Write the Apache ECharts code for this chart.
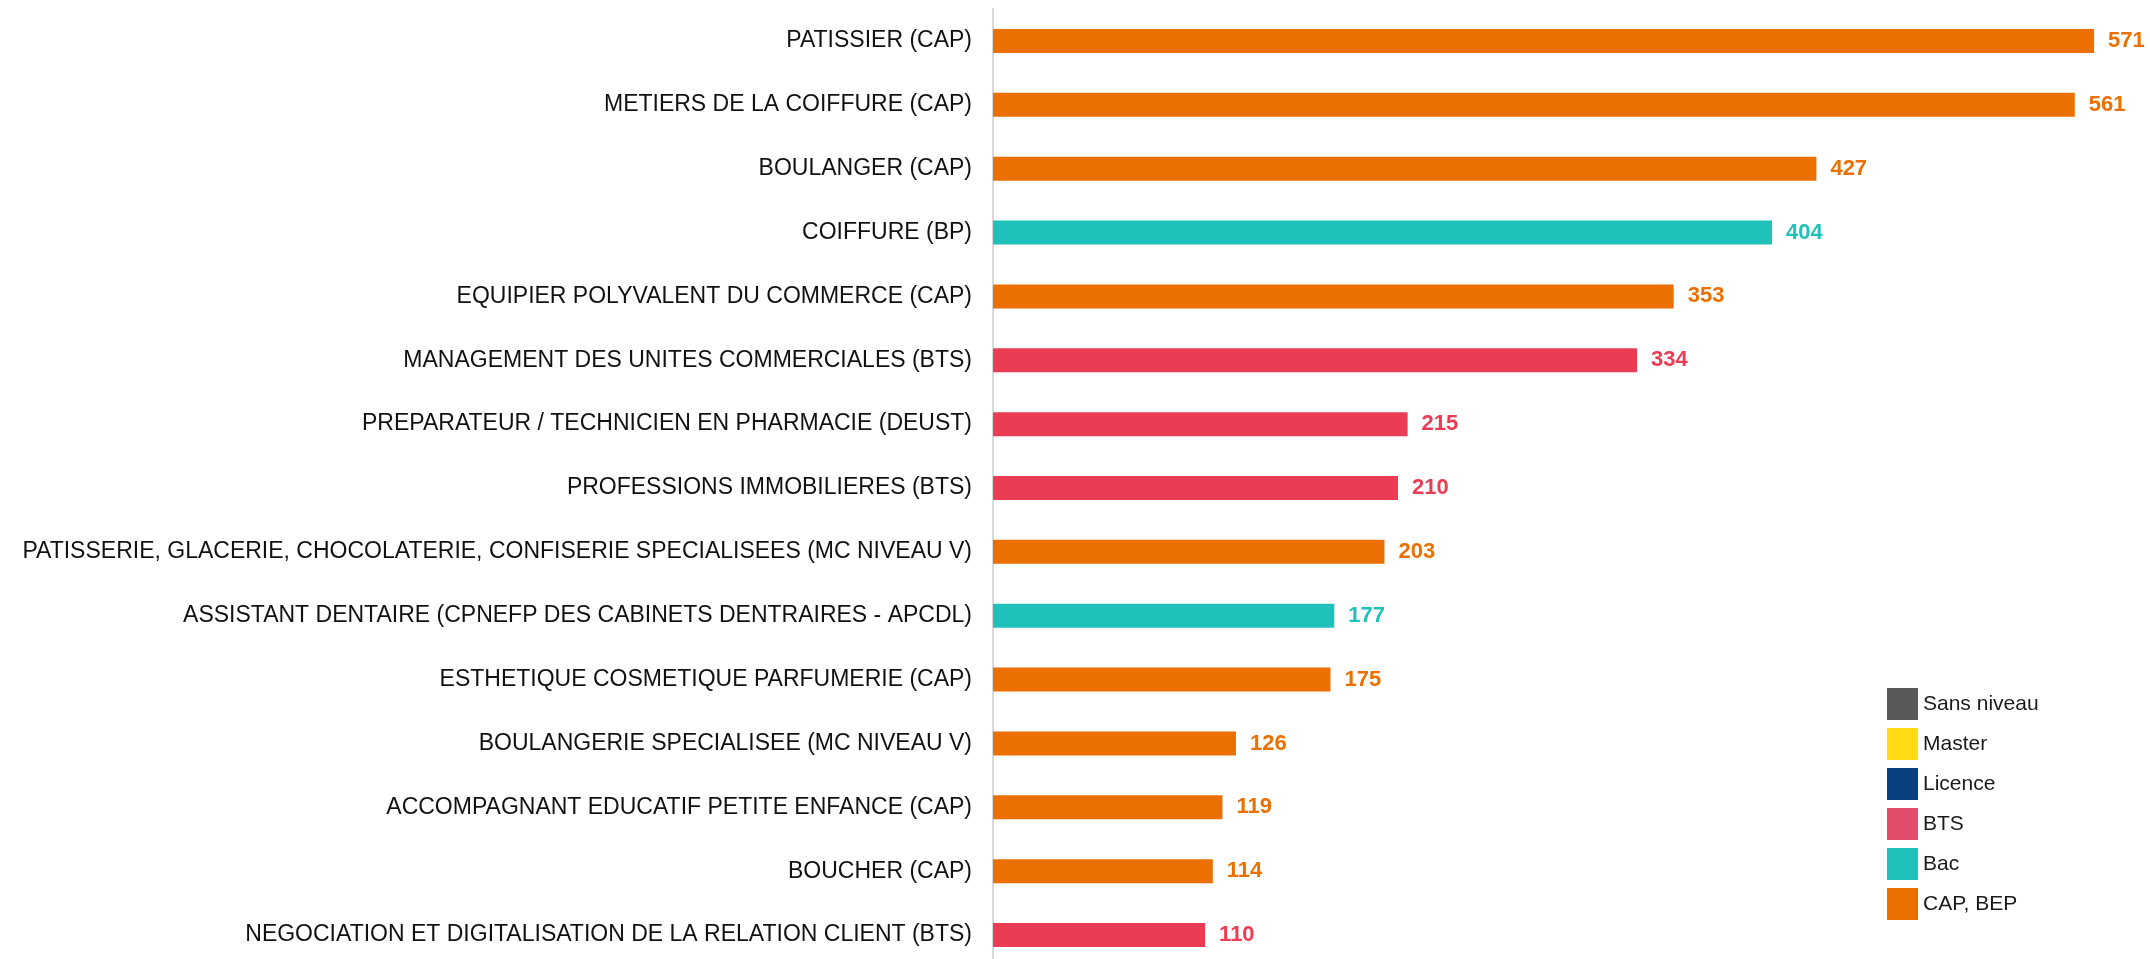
<!DOCTYPE html>
<html>
<head>
<meta charset="utf-8">
<script src="https://cdn.jsdelivr.net/npm/echarts@6/dist/echarts.min.js"></script>
<style>
  html, body { margin: 0; padding: 0; background: #fff; }
  #chart { width: 2150px; height: 959px; }
</style>
</head>
<body>
<div id="chart"></div>
<script>
// Formations listed from top to bottom
const categories = [
  'PATISSIER (CAP)',
  'METIERS DE LA COIFFURE (CAP)',
  'BOULANGER (CAP)',
  'COIFFURE (BP)',
  'EQUIPIER POLYVALENT DU COMMERCE (CAP)',
  'MANAGEMENT DES UNITES COMMERCIALES (BTS)',
  'PREPARATEUR / TECHNICIEN EN PHARMACIE (DEUST)',
  'PROFESSIONS IMMOBILIERES (BTS)',
  'PATISSERIE, GLACERIE, CHOCOLATERIE, CONFISERIE SPECIALISEES (MC NIVEAU V)',
  'ASSISTANT DENTAIRE (CPNEFP DES CABINETS DENTRAIRES - APCDL)',
  'ESTHETIQUE COSMETIQUE PARFUMERIE (CAP)',
  'BOULANGERIE SPECIALISEE (MC NIVEAU V)',
  'ACCOMPAGNANT EDUCATIF PETITE ENFANCE (CAP)',
  'BOUCHER (CAP)',
  'NEGOCIATION ET DIGITALISATION DE LA RELATION CLIENT (BTS)'
];

const values = [571, 561, 427, 404, 353, 334, 215, 210, 203, 177, 175, 126, 119, 114, 110];

// Level of each formation, aligned with categories
const levels = [
  'CAP, BEP', 'CAP, BEP', 'CAP, BEP', 'Bac', 'CAP, BEP', 'BTS', 'BTS', 'BTS',
  'CAP, BEP', 'Bac', 'CAP, BEP', 'CAP, BEP', 'CAP, BEP', 'CAP, BEP', 'BTS'
];

// Legend order (top to bottom)
const levelNames = ['Sans niveau', 'Master', 'Licence', 'BTS', 'Bac', 'CAP, BEP'];

const barColors = {
  'Sans niveau': '#595959',
  'Master': '#FFDC14',
  'Licence': '#0B4080',
  'BTS': '#EB3C53',
  'Bac': '#20C1BB',
  'CAP, BEP': '#EC7000'
};
const legendColors = {
  'Sans niveau': '#595959',
  'Master': '#FFDC14',
  'Licence': '#0B4080',
  'BTS': '#E14D6A',
  'Bac': '#20C1BB',
  'CAP, BEP': '#EC7000'
};

const series = levelNames.map(function (lvl) {
  return {
    name: lvl,
    type: 'bar',
    stack: 'all',
    barWidth: 24,
    itemStyle: { color: barColors[lvl] },
    label: {
      show: true,
      position: 'right',
      distance: 14,
      color: barColors[lvl],
      fontFamily: 'Liberation Sans',
      fontWeight: 'bold',
      fontSize: 22
    },
    data: values.map(function (v, i) { return levels[i] === lvl ? v : '-'; })
  };
});

const chart = echarts.init(document.getElementById('chart'), null, { renderer: 'canvas' });
chart.setOption({
  animation: false,
  backgroundColor: '#ffffff',
  grid: {
    left: 993, top: 9, width: 1157, height: 958,
    containLabel: false,
    outerBoundsMode: 'none'
  },
  legend: {
    orient: 'vertical',
    left: 1887,
    top: 688,
    icon: 'rect',
    itemWidth: 31,
    itemHeight: 32,
    itemGap: 8,
    padding: 0,
    textStyle: { fontFamily: 'Liberation Sans', fontSize: 21, color: '#1a1a1a' },
    data: levelNames.map(function (lvl) {
      return { name: lvl, itemStyle: { color: legendColors[lvl] } };
    })
  },
  xAxis: {
    type: 'value',
    min: 0,
    max: 600,
    show: false
  },
  yAxis: {
    type: 'category',
    inverse: true,
    data: categories,
    axisLine: { show: true, lineStyle: { color: '#D9D9D9', width: 2 } },
    axisTick: { show: false },
    axisLabel: {
      margin: 21,
      color: '#111111',
      fontFamily: 'Liberation Sans',
      fontSize: 23
    }
  },
  series: series
});
</script>
</body>
</html>
